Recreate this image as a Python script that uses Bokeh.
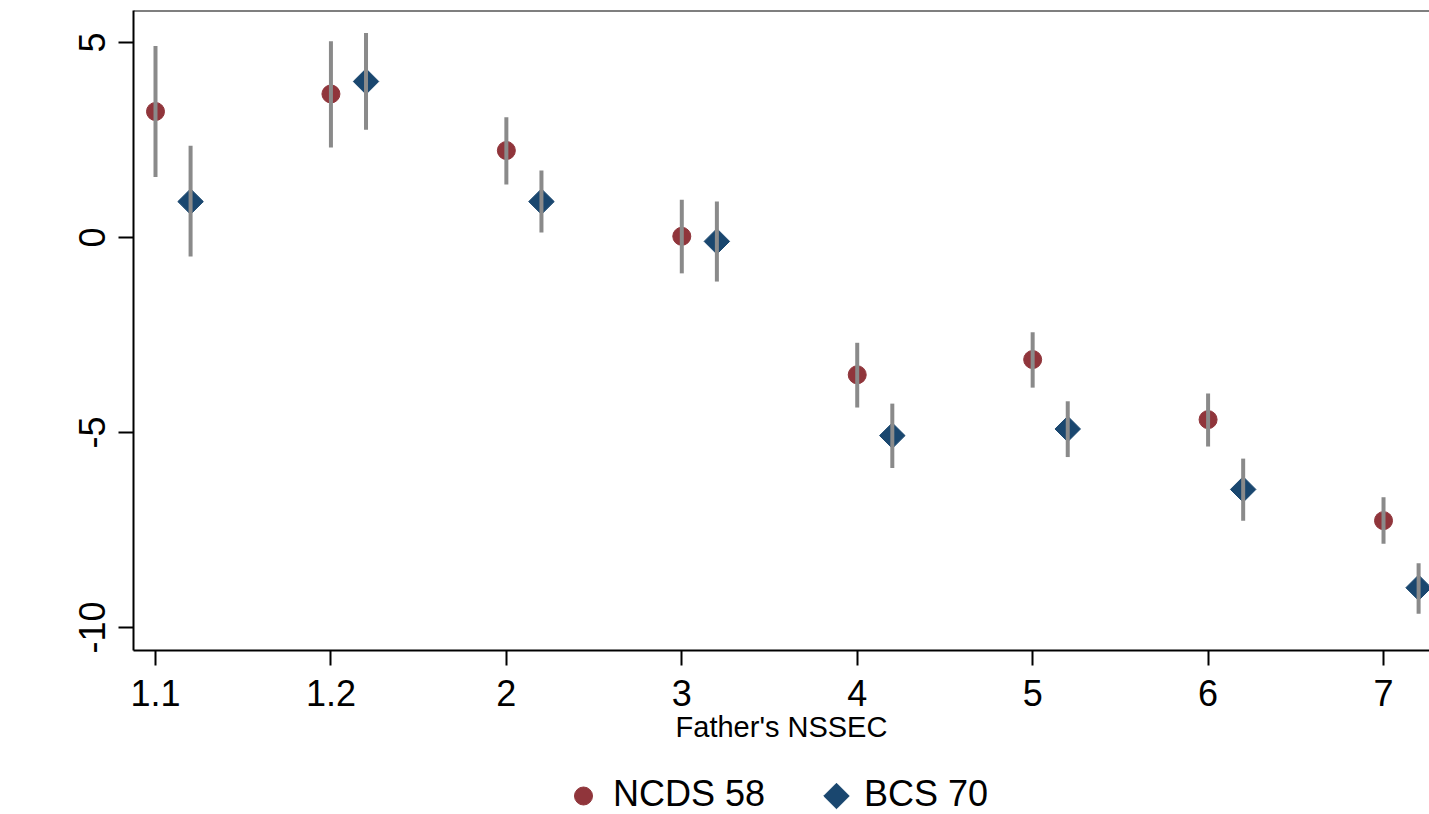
import math
from bokeh.plotting import figure
from bokeh.layouts import column
from bokeh.models import Range1d, FixedTicker, Span, ColumnDataSource
from bokeh.transform import dodge
from bokeh.embed import file_html
from bokeh.resources import INLINE

# ---- data ----
categories = ["1.1", "1.2", "2", "3", "4", "5", "6", "7"]
ncds = [3.23, 3.68, 2.23, 0.03, -3.52, -3.13, -4.67, -7.26]
ncds_lo = [1.55, 2.31, 1.36, -0.92, -4.36, -3.85, -5.36, -7.85]
ncds_hi = [4.91, 5.03, 3.08, 0.97, -2.70, -2.43, -4.00, -6.66]
bcs = [0.92, 4.00, 0.92, -0.10, -5.08, -4.91, -6.46, -8.98]
bcs_lo = [-0.49, 2.76, 0.13, -1.13, -5.91, -5.63, -7.26, -9.65]
bcs_hi = [2.35, 5.24, 1.72, 0.92, -4.26, -4.20, -5.67, -8.35]
y_ticks = [-10, -5, 0, 5]
y_tick_labels = ["-10", "-5", "0", "5"]
series_names = ["NCDS 58", "BCS 70"]

positions = list(range(1, len(categories) + 1))
src = ColumnDataSource(dict(pos=positions, ncds=ncds, ncds_lo=ncds_lo, ncds_hi=ncds_hi,
                            bcs=bcs, bcs_lo=bcs_lo, bcs_hi=bcs_hi))

FONT = "Liberation Sans"
RED = "#90353B"
BLUE = "#1A476F"
GRAY = "#8A8A8A"
MARKER_SIZE = 18
LEFT = 133

p = figure(width=1429, height=760, output_backend="svg", toolbar_location=None,
           x_range=Range1d(0.8746, 8.2621), y_range=Range1d(-10.59, 5.82),
           min_border_left=LEFT, min_border_right=0, min_border_top=10, min_border_bottom=110)
p.outline_line_color = None
p.xgrid.visible = False
p.ygrid.visible = False

# markers
p.scatter("pos", "ncds", source=src, marker="circle", size=MARKER_SIZE,
          fill_color=RED, line_color=RED)
bx = dodge("pos", 0.2)
p.scatter(x=bx, y="bcs", source=src, marker="square", angle=math.pi / 4, size=MARKER_SIZE,
          fill_color=BLUE, line_color=BLUE)
# error bars (drawn over markers)
p.segment(x0="pos", y0="ncds_lo", x1="pos", y1="ncds_hi", source=src,
          line_color=GRAY, line_width=4)
p.segment(x0=bx, y0="bcs_lo", x1=bx, y1="bcs_hi", source=src,
          line_color=GRAY, line_width=4)

# top border line
p.add_layout(Span(location=5.82, dimension="width", line_color="black", line_width=2))

# axes
for ax in (p.xaxis[0], p.yaxis[0]):
    ax.axis_line_color = "black"
    ax.axis_line_width = 2
    ax.major_tick_line_color = "black"
    ax.major_tick_line_width = 2
    ax.major_tick_out = 15
    ax.major_tick_in = 0
    ax.minor_tick_line_color = None
    ax.major_label_text_font = FONT
    ax.major_label_text_font_size = "36px"
    ax.major_label_text_color = "black"

p.xaxis.ticker = FixedTicker(ticks=positions)
p.xaxis.major_label_overrides = {pos: cat for pos, cat in zip(positions, categories)}
p.xaxis.major_label_standoff = 14
p.xaxis.axis_label = "Father's NSSEC"
p.xaxis.axis_label_text_font = FONT
p.xaxis.axis_label_text_font_size = "29px"
p.xaxis.axis_label_text_font_style = "normal"
p.xaxis.axis_label_text_color = "black"
p.xaxis.axis_label_standoff = 2

p.yaxis.ticker = FixedTicker(ticks=y_ticks)
p.yaxis.major_label_overrides = {t: s for t, s in zip(y_ticks, y_tick_labels)}
p.yaxis.major_label_orientation = "vertical"
p.yaxis.major_label_standoff = 13

# ---- legend strip (layout only; coordinates are page pixels) ----
LEG_H = 54
lg = figure(width=1429, height=LEG_H, output_backend="svg", toolbar_location=None,
            x_range=Range1d(LEFT, 1429), y_range=Range1d(LEG_H, 0),
            x_axis_type=None, y_axis_type=None,
            min_border_left=LEFT, min_border_right=0, min_border_top=0, min_border_bottom=0)
lg.outline_line_color = None
lg.xgrid.visible = False
lg.ygrid.visible = False
leg_src = ColumnDataSource(dict(
    mx=[583, 836], my=[35.5, 35.5], marker=["circle", "square"], angle=[0, math.pi / 4],
    color=[RED, BLUE], tx=[612.5, 863.5], ty=[33, 33], name=series_names))
lg.scatter("mx", "my", source=leg_src, marker="marker", angle="angle", size=MARKER_SIZE,
           fill_color="color", line_color="color")
lg.text("tx", "ty", text="name", source=leg_src, text_font_size="36px",
        text_baseline="middle", text_align="left", text_color="black",
        text_font={"value": FONT})

open("out.html", "w").write(file_html(column(p, lg, spacing=0), INLINE))
